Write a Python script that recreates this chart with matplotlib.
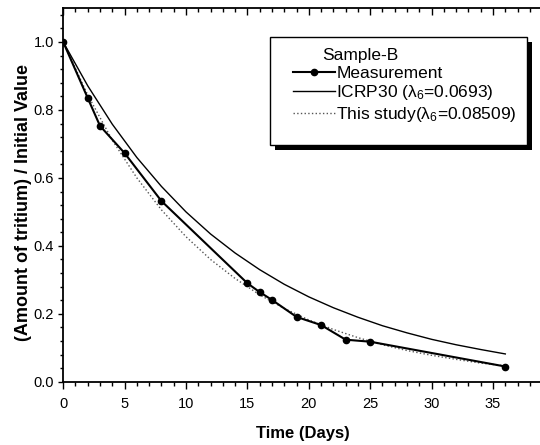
import matplotlib

matplotlib.use("Agg")
import matplotlib.pyplot as plt
from matplotlib.lines import Line2D
from matplotlib.patches import Rectangle
from matplotlib.ticker import MultipleLocator

plt.rcParams["font.family"] = ["Liberation Sans", "DejaVu Sans"]
plt.rcParams["mathtext.fontset"] = "custom"
plt.rcParams["mathtext.rm"] = "Liberation Sans"
plt.rcParams["mathtext.it"] = "Liberation Sans"

# measured fraction of tritium remaining (Sample-B)
meas_days = [0, 2, 3, 5, 8, 15, 16, 17, 19, 21, 23, 25, 36]
meas_vals = [1.0, 0.835, 0.753, 0.673, 0.532, 0.29, 0.264, 0.241, 0.191, 0.167, 0.124, 0.118, 0.045]

# model curves
curve_days = [0, 2, 4, 6, 8, 10, 12, 14, 16, 18, 20, 22, 24, 26, 28, 30, 32, 34, 36]
icrp_vals = [1.0, 0.871, 0.758, 0.660, 0.575, 0.500, 0.435, 0.379, 0.330, 0.287,
             0.250, 0.218, 0.190, 0.165, 0.144, 0.125, 0.109, 0.095, 0.082]
study_vals = [1.0, 0.844, 0.711, 0.600, 0.506, 0.427, 0.360, 0.304, 0.256, 0.216,
              0.182, 0.154, 0.130, 0.109, 0.092, 0.078, 0.066, 0.055, 0.047]

fig = plt.figure(figsize=(5.4, 4.45), dpi=100)
ax = fig.add_axes([0.117, 0.142, 0.887, 0.840])

ax.plot(curve_days, study_vals, linestyle=":", color="#555555", linewidth=1.0)
ax.plot(curve_days, icrp_vals, color="black", linewidth=1.0)
ax.plot(meas_days, meas_vals, color="black", linewidth=1.5, marker="o", markersize=4.5)

ax.set_xlim(0, 39)
ax.set_ylim(0, 1.1)
ax.xaxis.set_major_locator(MultipleLocator(5))
ax.xaxis.set_minor_locator(MultipleLocator(1))
ax.yaxis.set_major_locator(MultipleLocator(0.2))
ax.yaxis.set_minor_locator(MultipleLocator(0.04))
ax.yaxis.set_major_formatter(plt.FormatStrFormatter("%.1f"))
ax.tick_params(which="both", labelsize=10.5, width=1)
ax.tick_params(axis="y", which="major", direction="out", length=3.5, pad=3)
ax.tick_params(axis="y", which="minor", direction="out", length=2)
ax.tick_params(axis="x", which="major", direction="out", length=5, pad=6)
ax.tick_params(axis="x", which="minor", direction="out", length=3)
ax.tick_params(axis="x", which="both", top=True, labeltop=False)
for t in ax.xaxis.get_major_ticks() + ax.xaxis.get_minor_ticks():
    t.tick2line.set_marker(3)  # top ticks point inward
for side in ["left", "bottom", "top"]:
    ax.spines[side].set_linewidth(1.3)

ax.set_xlabel("Time (Days)", fontsize=12, fontweight="bold", labelpad=11)
ax.set_ylabel("(Amount of tritium) / Initial Value", fontsize=13, fontweight="bold")
ax.yaxis.set_label_coords(-0.066, 0.479)

# legend frame with heavy drop shadow, drawn by hand
fx0, fx1, fy0, fy1 = 0.432, 0.969, 0.634, 0.922
inv = ax.transAxes.inverted()
offx = inv.transform((5, 0))[0] - inv.transform((0, 0))[0]
offy = inv.transform((0, 5))[1] - inv.transform((0, 0))[1]
ax.add_patch(Rectangle((fx0 + offx, fy0 - offy), fx1 - fx0, fy1 - fy0, transform=ax.transAxes,
                       facecolor="black", edgecolor="none", zorder=5))
ax.add_patch(Rectangle((fx0, fy0), fx1 - fx0, fy1 - fy0, transform=ax.transAxes,
                       facecolor="white", edgecolor="black", linewidth=1.0, zorder=5.1))
ax.text(0.541, 0.874, "Sample-B", transform=ax.transAxes, fontsize=12.5,
        va="center", ha="left", zorder=6)

handles = [
    Line2D([], [], color="black", linewidth=1.5, marker="o", markersize=4.5),
    Line2D([], [], color="black", linewidth=1.0),
    Line2D([], [], color="#555555", linewidth=1.0, linestyle=":"),
]
labels = ["Measurement", "ICRP30 (λ$_6$=0.0693)", "This study(λ$_6$=0.08509)"]
leg = ax.legend(handles, labels, loc="upper left", bbox_to_anchor=(0.480, 0.846),
                borderaxespad=0, borderpad=0, fontsize=12.5, labelspacing=0.15,
                handlelength=2.4, handletextpad=0.1, frameon=False)
leg.set_zorder(6)

fig.savefig("out.png", dpi=100)
